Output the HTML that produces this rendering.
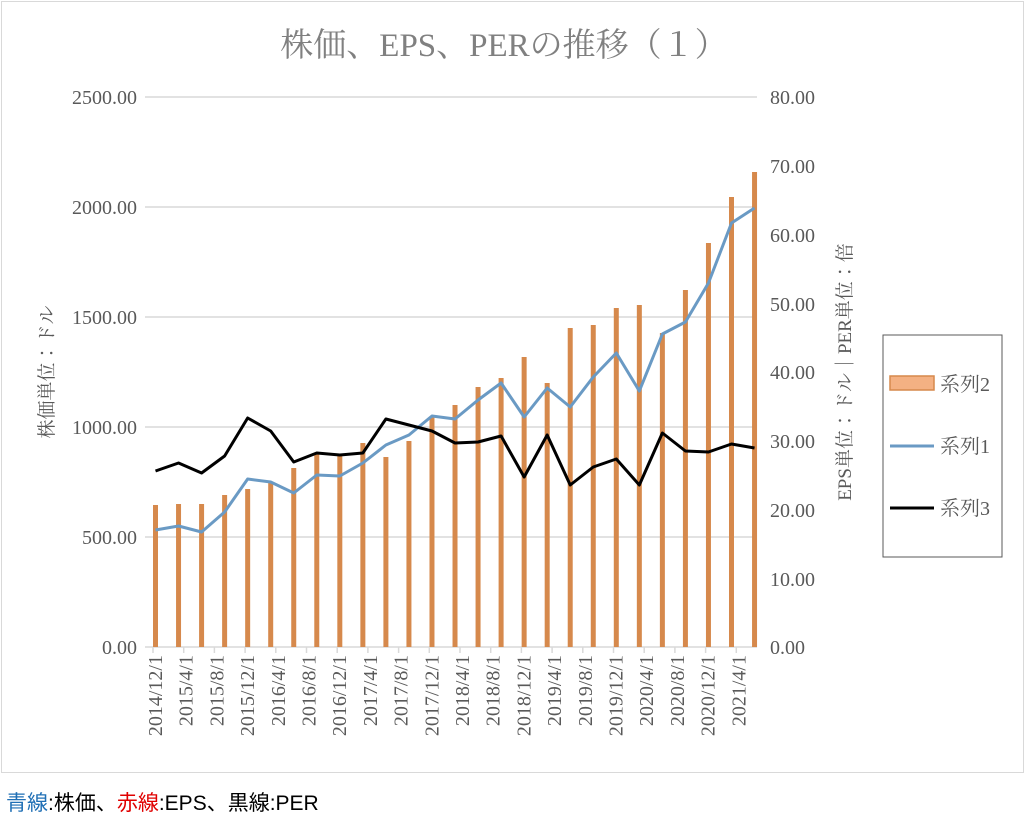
<!DOCTYPE html>
<html><head><meta charset="utf-8"><style>
body{margin:0;background:#fff;width:1028px;height:816px;overflow:hidden}
svg{position:absolute;left:0;top:0}
.t{font-family:"Liberation Serif","Noto Serif CJK JP",serif;fill:#595959;font-size:20px}
.s{font-family:"Liberation Serif","Noto Serif CJK JP",serif;fill:#595959;font-size:19px}
</style></head><body>
<svg width="1028" height="816" viewBox="0 0 1028 816">
<rect x="1.5" y="1.5" width="1022" height="771" fill="#fff" stroke="#d9d9d9"/>
<text x="504" y="56" text-anchor="middle" style="font-family:'Liberation Serif','Noto Serif CJK JP',serif;font-size:33px;fill:#808080">株価、EPS、PERの推移（１）</text>
<g stroke="#d9d9d9" stroke-width="1.5">
<line x1="145" y1="97" x2="757" y2="97"/><line x1="145" y1="207" x2="757" y2="207"/>
<line x1="145" y1="317" x2="757" y2="317"/><line x1="145" y1="427" x2="757" y2="427"/>
<line x1="145" y1="537" x2="757" y2="537"/><line x1="145" y1="647" x2="757" y2="647"/>
</g>
<g class="t" text-anchor="end">
<text x="137" y="104">2500.00</text><text x="137" y="214">2000.00</text><text x="137" y="324">1500.00</text>
<text x="137" y="434">1000.00</text><text x="137" y="544">500.00</text><text x="137" y="654">0.00</text>
</g>
<g class="t">
<text x="770" y="104">80.00</text><text x="770" y="173">70.00</text><text x="770" y="242">60.00</text>
<text x="770" y="311">50.00</text><text x="770" y="379">40.00</text><text x="770" y="448">30.00</text>
<text x="770" y="517">20.00</text><text x="770" y="586">10.00</text><text x="770" y="654">0.00</text>
</g>
<text class="s" transform="translate(53,372) rotate(-90)" text-anchor="middle">株価単位：ドル</text>
<text class="s" transform="translate(851,372) rotate(-90)" text-anchor="middle">EPS単位：ドル｜PER単位：倍</text>
<g stroke="#d9d9d9" stroke-width="1.5" id="ticks"></g>
<g id="bars" stroke="#d6894c" stroke-width="5"></g>
<polyline id="blue" fill="none" stroke="#6a9ac4" stroke-width="3" stroke-linejoin="round"/>
<polyline id="black" fill="none" stroke="#000" stroke-width="3" stroke-linejoin="round"/>
<g id="xl" class="t"></g>
<rect x="883" y="335" width="119" height="222" fill="#fff" stroke="#595959"/>
<rect x="890" y="376" width="44" height="14" fill="#f4b183" stroke="#d6894c" stroke-width="1.5"/>
<text class="t" x="940" y="391">系列2</text>
<line x1="890" y1="446" x2="934" y2="446" stroke="#6a9ac4" stroke-width="3"/>
<text class="t" x="940" y="453">系列1</text>
<line x1="890" y1="508" x2="934" y2="508" stroke="#000" stroke-width="3"/>
<text class="t" x="940" y="515">系列3</text>
<text x="6" y="810" style="font-family:'Liberation Sans','Noto Sans CJK JP',sans-serif;font-size:21px;fill:#000"><tspan fill="#1f6fb5">青線</tspan>:株価、<tspan fill="#e00000">赤線</tspan>:EPS、黒線:PER</text>
</svg>
<script>
const ns="http://www.w3.org/2000/svg";
const bt=[505,504,504,495,489,483,468,454,456,443,457,441,417,405,387,378,357,383,328,325,308,305,333,290,243,197,172];
const bl=[530,526,532,512,479,482,493,475,476,463,445,435,416,419,400,383,417,388,407,377,353,391,334,322,283,223,208];
const bk=[471,463,473,456,418,431,462,453,455,453,419,425,431,443,442,436,477,435,485,467,459,485,433,451,452,444,448];
let b=document.getElementById('bars'),p1=[],p2=[];
for(let i=0;i<27;i++){let x=155.5+23.04*i;
let l=document.createElementNS(ns,'line');l.setAttribute('x1',x);l.setAttribute('x2',x);l.setAttribute('y1',bt[i]);l.setAttribute('y2',647);b.appendChild(l);
p1.push(x+','+bl[i]);p2.push(x+','+bk[i]);}
document.getElementById('blue').setAttribute('points',p1.join(' '));
document.getElementById('black').setAttribute('points',p2.join(' '));
const labs=["2014/12/1","2015/4/1","2015/8/1","2015/12/1","2016/4/1","2016/8/1","2016/12/1","2017/4/1","2017/8/1","2017/12/1","2018/4/1","2018/8/1","2018/12/1","2019/4/1","2019/8/1","2019/12/1","2020/4/1","2020/8/1","2020/12/1","2021/4/1"];
let tk=document.getElementById('ticks'),xl=document.getElementById('xl');
for(let k=0;k<20;k++){let x=153+30.7*k;
let l=document.createElementNS(ns,'line');l.setAttribute('x1',x);l.setAttribute('x2',x);l.setAttribute('y1',647);l.setAttribute('y2',653);tk.appendChild(l);
let t=document.createElementNS(ns,'text');t.setAttribute('transform','translate('+(x+9)+',655) rotate(-90)');t.setAttribute('text-anchor','end');t.textContent=labs[k];xl.appendChild(t);}
</script>
</body></html>
